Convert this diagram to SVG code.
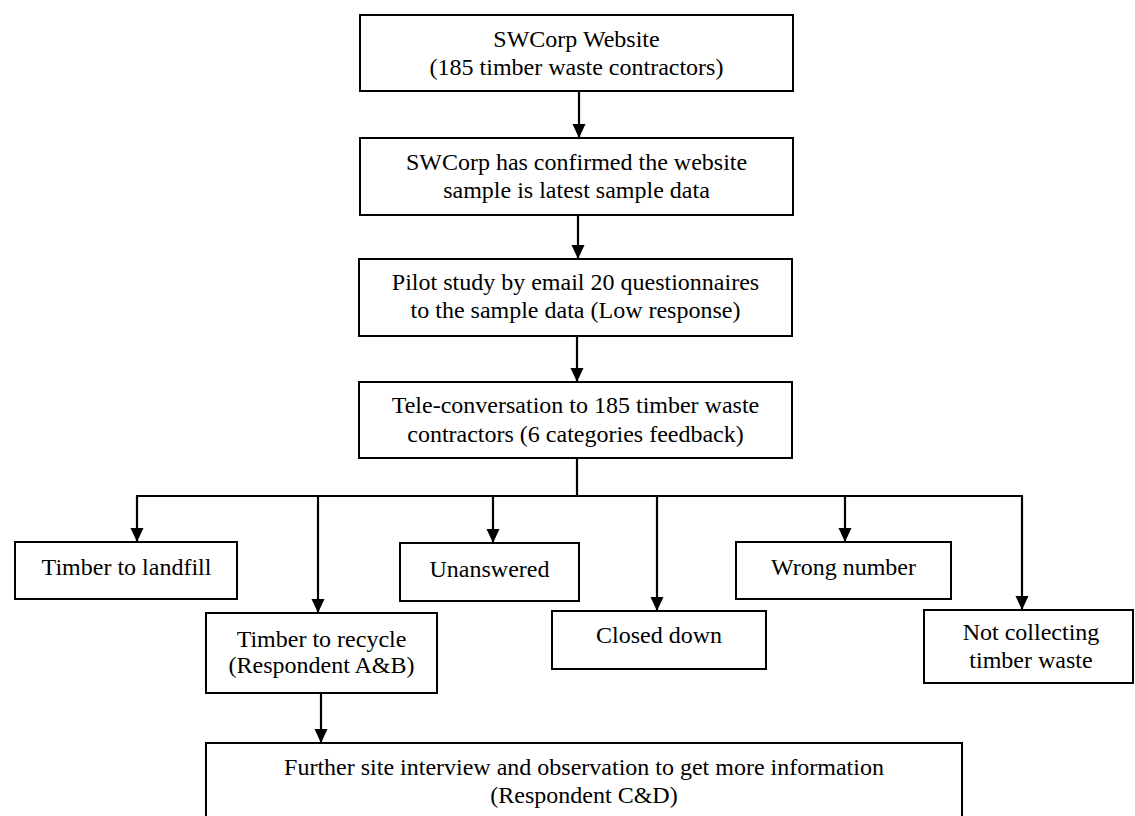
<svg xmlns="http://www.w3.org/2000/svg" width="1135" height="816" viewBox="0 0 1135 816">
<style>
rect.box{fill:#fff;stroke:#000;stroke-width:2}
text{font-family:'Liberation Serif','Times New Roman',Tinos,Times,'DejaVu Serif',serif;font-size:24px;fill:#000;text-anchor:middle}
.conn line{stroke:#000;stroke-width:2.2}
</style>
<defs>
<marker id="arr" markerUnits="userSpaceOnUse" markerWidth="14" markerHeight="14" refX="14" refY="7" orient="auto">
<path d="M0,0.5 L14,7 L0,13.5 z" fill="#000"/>
</marker>
</defs>
<rect width="1135" height="816" fill="#fff"/>
<g class="conn" id="connectors">
<line x1="579" y1="91" x2="579" y2="138" marker-end="url(#arr)"/>
<line x1="578" y1="215" x2="578" y2="259" marker-end="url(#arr)"/>
<line x1="577" y1="336" x2="577" y2="382" marker-end="url(#arr)"/>
<line x1="577" y1="458" x2="577" y2="496"/>
<line x1="136" y1="496" x2="1023" y2="496"/>
<line x1="137" y1="496" x2="137" y2="542" marker-end="url(#arr)"/>
<line x1="318" y1="496" x2="318" y2="613" marker-end="url(#arr)"/>
<line x1="493" y1="496" x2="493" y2="543" marker-end="url(#arr)"/>
<line x1="657" y1="496" x2="657" y2="611" marker-end="url(#arr)"/>
<line x1="845" y1="496" x2="845" y2="542" marker-end="url(#arr)"/>
<line x1="1022" y1="496" x2="1022" y2="610" marker-end="url(#arr)"/>
<line x1="321" y1="693" x2="321" y2="743" marker-end="url(#arr)"/>
</g>
<g id="n1"><rect class="box" x="360" y="15" width="433" height="76"/><text x="576.5" y="47">SWCorp Website</text><text x="576.5" y="75">(185 timber waste contractors)</text></g>
<g id="n2"><rect class="box" x="360" y="138" width="433" height="77"/><text x="576.5" y="170">SWCorp has confirmed the website</text><text x="576.5" y="198">sample is latest sample data</text></g>
<g id="n3"><rect class="box" x="359" y="259" width="433" height="77"/><text x="575.5" y="290">Pilot study by email 20 questionnaires</text><text x="575.5" y="318">to the sample data (Low response)</text></g>
<g id="n4"><rect class="box" x="359" y="382" width="433" height="76"/><text x="575.5" y="413">Tele-conversation to 185 timber waste</text><text x="575.5" y="442">contractors (6 categories feedback)</text></g>
<g id="n5"><rect class="box" x="15" y="542" width="222" height="57"/><text x="126.5" y="575">Timber to landfill</text></g>
<g id="n6"><rect class="box" x="206" y="613" width="231" height="80"/><text x="321.5" y="647">Timber to recycle</text><text x="321.5" y="673">(Respondent A&amp;B)</text></g>
<g id="n7"><rect class="box" x="400" y="543" width="179" height="58"/><text x="489.5" y="577">Unanswered</text></g>
<g id="n8"><rect class="box" x="552" y="611" width="214" height="58"/><text x="659" y="643">Closed down</text></g>
<g id="n9"><rect class="box" x="736" y="542" width="215" height="57"/><text x="843.5" y="575">Wrong number</text></g>
<g id="n10"><rect class="box" x="924" y="610" width="209" height="73"/><text x="1031" y="640">Not collecting</text><text x="1031" y="668">timber waste</text></g>
<g id="n11"><rect class="box" x="206" y="743" width="756" height="90"/><text x="584" y="775">Further site interview and observation to get more information</text><text x="584" y="803">(Respondent C&amp;D)</text></g>
</svg>
